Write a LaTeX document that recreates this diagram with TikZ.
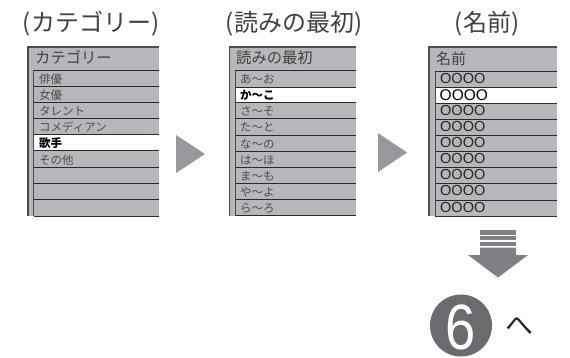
\documentclass[tikz,border=0pt]{standalone}
\usepackage{fontspec}
\setmainfont{Noto Sans CJK JP}
\newfontfamily\latin{Liberation Sans}
\definecolor{panelgray}{HTML}{B6B7BA}
\definecolor{arrowgray}{HTML}{97989B}
\definecolor{darkarrow}{HTML}{808184}
\definecolor{circgray}{HTML}{6A6B6E}
\definecolor{inkline}{HTML}{2A2A2A}
\tikzset{x=1pt,y=-1pt,
 titletext/.style={inner sep=0pt,font=\fontsize{24}{25}\selectfont,text=black!75},
 headtext/.style={inner sep=0pt,anchor=west,font=\fontsize{15.3}{16}\selectfont,text=black!75},
 rowtext/.style={inner sep=0pt,anchor=west,font=\fontsize{11.5}{12}\selectfont,text=black!70},
 boldtext/.style={inner sep=0pt,anchor=west,font=\fontsize{11.5}{12}\selectfont\bfseries,text=black},
 circtext/.style={inner sep=0pt,anchor=west,font=\latin\fontsize{14.5}{15}\selectfont,text=black!85},
 rowline/.style={draw=inkline,line width=0.8pt},
 frameline/.style={draw=black!70,line width=1.2pt},
 tri/.style={fill=arrowgray,draw=none}}
\newcommand{\panel}[7]{% left,inner,right,lines list,white top,white bottom,first line
 \fill[panelgray] (#1,47) rectangle (#3,216);
 \fill[white] (#2,#5) rectangle (#3,#6);
 \draw[frameline] (#3,47) -- (#1,47) -- (#1,216);
 \draw[frameline,line width=0.8pt] (#2,216) -- (#2,#7);
 \foreach \yy in {#4} \draw[rowline] (#2,\yy) -- (#3,\yy);
}
\begin{document}
\begin{tikzpicture}
\useasboundingbox (0,0) rectangle (570,357);
\fill[white] (0,0) rectangle (570,357);
% titles
\node[titletext] (t1) at (91,23.5) {(カテゴリー)};
\node[titletext] (t2) at (294,23.5) {(読みの最初)};
\node[titletext] (t3) at (487,23.5) {(名前)};
% panels
\panel{28}{33.5}{159}{70,86,102,118,134,150.5,167,183,199,216}{134.5}{150}{70}
\panel{229.5}{235}{356}{70.5,87,102.5,118.5,135,151,167,183,199.5,215.5}{87.5}{102}{70.5}
\panel{429}{435}{557}{71,87,103,119,135,151,167,183,200,216}{87.5}{103}{71}
% panel 1 text
\node[headtext] (h1) at (35,57.5) {カテゴリー};
\node[rowtext] (a1) at (39,79) {俳優};
\node[rowtext] (a2) at (39,95.5) {女優};
\node[rowtext] (a3) at (39,111.5) {タレント};
\node[rowtext] (a4) at (39,127.5) {コメディアン};
\node[boldtext] (a5) at (39,143) {歌手};
\node[rowtext] (a6) at (39,160) {その他};
% panel 2 text
\node[headtext] (h2) at (236,57.5) {読みの最初};
\node[rowtext] (b1) at (240,79.5) {あ〜お};
\node[boldtext] (b2) at (240,95.5) {か〜こ};
\node[rowtext] (b3) at (240,111.5) {さ〜そ};
\node[rowtext] (b4) at (240,127.5) {た〜と};
\node[rowtext] (b5) at (240,144) {な〜の};
\node[rowtext] (b6) at (240,160.5) {は〜ほ};
\node[rowtext] (b7) at (240,176.5) {ま〜も};
\node[rowtext] (b8) at (240,192.5) {や〜よ};
\node[rowtext] (b9) at (240,208.5) {ら〜ろ};
% panel 3 text
\node[headtext,font=\fontsize{15}{16}\selectfont] (h3) at (436,59) {名前};
\foreach \nm/\yy in {c1/79,c3/111,c4/127,c5/143,c6/159,c7/175,c8/191,c9/208}
 \node[circtext] (\nm) at (440,\yy) {OOOO};
\node[circtext,font=\latin\fontsize{15.5}{16}\selectfont,text=black] (c2) at (439.5,95) {OOOO};
% triangles
\fill[tri] (176,135) -- (205,154) -- (176,173) -- cycle;
\fill[tri] (378,133) -- (407,152.5) -- (378,172) -- cycle;
% down arrow
\fill[darkarrow] (480,230) rectangle (516,234.5);
\fill[darkarrow] (480,236) rectangle (516,240);
\fill[darkarrow] (480,241.5) rectangle (516,246);
\fill[darkarrow] (480,247.5) -- (516,247.5) -- (516,255) -- (528,255) -- (498,277.5) -- (468,255) -- (480,255) -- cycle;
% step mark
\node[circle,fill=circgray,minimum size=62pt,inner sep=0pt] (six) at (461,325.5) {};
\node[inner sep=0pt,font=\latin\fontsize{64}{64}\selectfont,text=white,xscale=0.85] (sixt) at (461,327) {6};
\node[inner sep=0pt,font=\fontsize{28}{28}\selectfont,text=black!85] (he) at (519.5,326) {へ};
\end{tikzpicture}
\end{document}
